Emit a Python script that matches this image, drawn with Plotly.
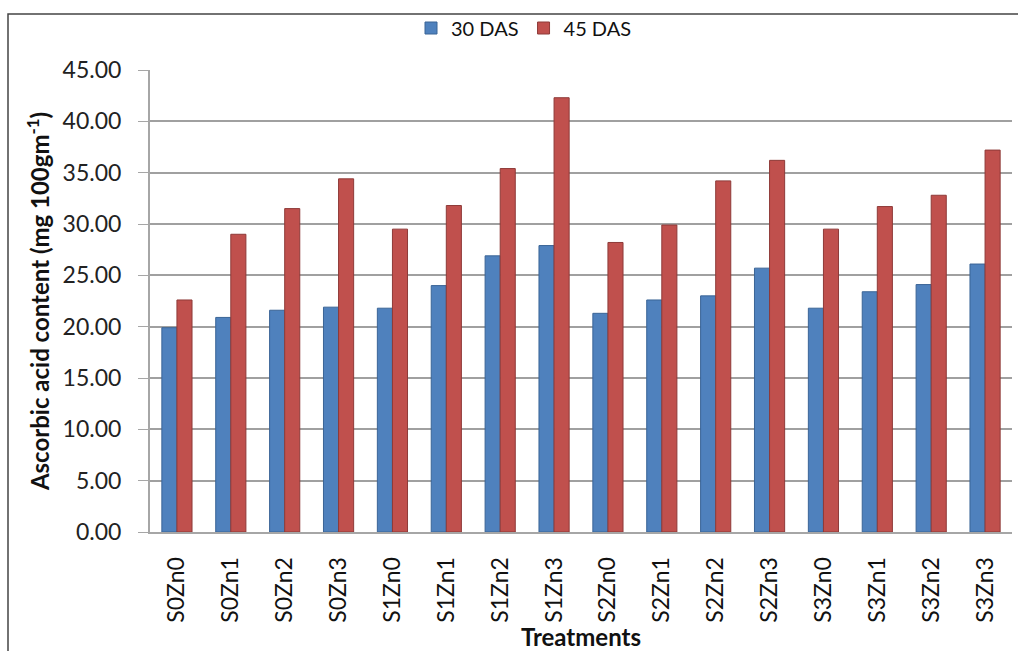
import plotly.graph_objects as go

categories = ["S0Zn0", "S0Zn1", "S0Zn2", "S0Zn3", "S1Zn0", "S1Zn1", "S1Zn2", "S1Zn3",
              "S2Zn0", "S2Zn1", "S2Zn2", "S2Zn3", "S3Zn0", "S3Zn1", "S3Zn2", "S3Zn3"]
das30 = [19.9, 20.9, 21.6, 21.9, 21.8, 24.0, 26.9, 27.9,
         21.3, 22.6, 23.0, 25.7, 21.8, 23.4, 24.1, 26.1]
das45 = [22.6, 29.0, 31.5, 34.4, 29.5, 31.8, 35.4, 42.3,
         28.2, 29.9, 34.2, 36.2, 29.5, 31.7, 32.8, 37.2]
ytick_vals = [0, 5, 10, 15, 20, 25, 30, 35, 40, 45]
ytick_text = ["0.00", "5.00", "10.00", "15.00", "20.00", "25.00", "30.00", "35.00", "40.00", "45.00"]

FONT = "Lato, 'Open Sans', sans-serif"
L, R, T, B = 150, 6, 70, 119
W, H = 1018, 651
PW, PH = W - L - R, H - T - B

fig = go.Figure()
fig.add_trace(go.Bar(name="30 DAS", x=categories, y=das30,
                     marker=dict(color="#4F81BD", line=dict(color="#3A6496", width=1))))
fig.add_trace(go.Bar(name="45 DAS", x=categories, y=das45,
                     marker=dict(color="#C0504D", line=dict(color="#8E3A38", width=1))))

fig.update_layout(
    width=W, height=H,
    margin=dict(l=L, r=R, t=T, b=B, autoexpand=False),
    paper_bgcolor="white", plot_bgcolor="white",
    barmode="group", bargap=0.44, bargroupgap=0.0,
    font=dict(family=FONT, color="#222"),
    legend=dict(orientation="h", x=(524 - L) / PW, y=(H - B - 28) / PH,
                xanchor="center", yanchor="middle",
                font=dict(size=20, family=FONT, color="#111"), itemwidth=30,
                bgcolor="rgba(0,0,0,0)", traceorder="normal"),
    xaxis=dict(tickangle=-90, tickfont=dict(size=23, family=FONT, color="#111"),
               showline=True, linecolor="#A6A6A6", linewidth=2, ticks="",
               ticklabelstandoff=14, automargin=False,
               title=dict(text="<b>Treatments</b>", font=dict(size=24, family=FONT, color="#111"),
                          standoff=10)),
    yaxis=dict(range=[0, 45], tickvals=ytick_vals, ticktext=ytick_text,
               tickfont=dict(size=23, family=FONT, color="#222"),
               showgrid=True, gridcolor="#A0A0A0", gridwidth=2,
               showline=True, linecolor="#A6A6A6", linewidth=2,
               ticks="outside", ticklen=10, tickcolor="#A6A6A6",
               ticklabelstandoff=12,
               zeroline=False, automargin=False,
               title=dict(text="<b>Ascorbic acid content (mg 100gm<sup>-1</sup>)</b>",
                          font=dict(size=24, family=FONT, color="#111"), standoff=6)),
    shapes=[
        dict(type="rect", xref="paper", yref="paper",
             x0=(8 - L) / PW, x1=1.05, y0=-0.4, y1=(H - B - 14) / PH,
             line=dict(color="#444", width=1.5), fillcolor="rgba(0,0,0,0)", layer="below"),
    ],
)

fig.write_html("out.html", config={"displayModeBar": False},
               post_script="document.body.style.margin='0';")
